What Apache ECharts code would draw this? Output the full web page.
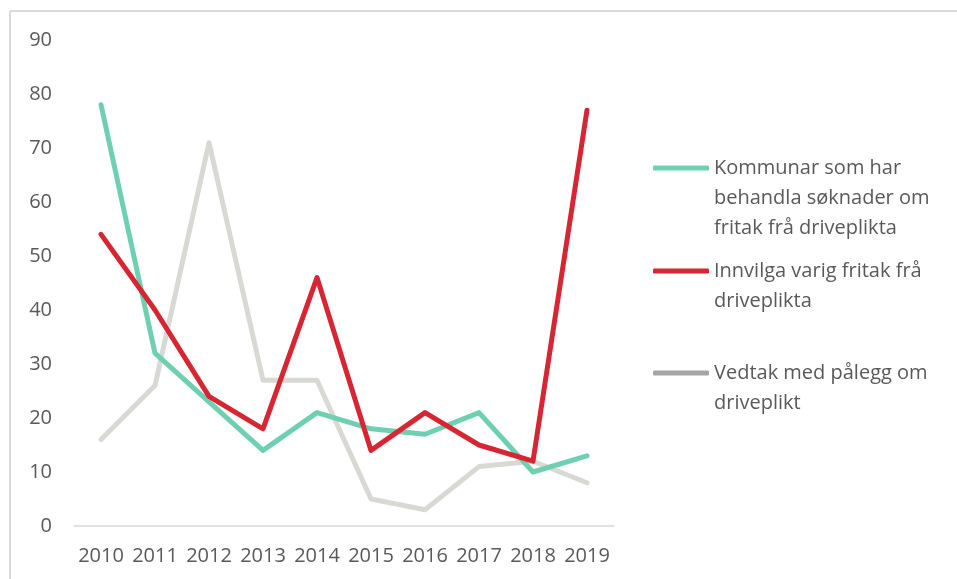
<!DOCTYPE html>
<html>
<head>
<meta charset="utf-8">
<script src="https://cdn.jsdelivr.net/npm/echarts@6/dist/echarts.min.js"></script>
<style>
html,body{margin:0;padding:0;background:#fff;}
#chart{width:957px;height:579px;}
</style>
</head>
<body>
<div id="chart"></div>
<script>
const years = ['2010','2011','2012','2013','2014','2015','2016','2017','2018','2019'];
const seriesNames = [
  'Kommunar som har\nbehandla søknader om\nfritak frå driveplikta',
  'Innvilga varig fritak frå\ndriveplikta',
  'Vedtak med pålegg om\ndriveplikt'
];
const kommunar = [78, 32, 23, 14, 21, 18, 17, 21, 10, 13];
const innvilga = [54, 40, 24, 18, 46, 14, 21, 15, 12, 77];
const vedtak = [16, 26, 71, 27, 27, 5, 3, 11, 12, 8];
const yTicks = { min: 0, max: 90, interval: 10 };

const lineColors = ['#6fcfb1', '#d62633', '#d9d9d4'];
const legendColors = ['#6fcfb1', '#d62633', '#a6a6a6'];
const values = [kommunar, innvilga, vedtak];
const LH = 30;
const legendIconY = [168, 271, 373];
const FONT = 'Open Sans';

const chart = echarts.init(document.getElementById('chart'));
const legends = seriesNames.map((name, i) => {
  const n = name.split('\n').length;
  const total = 2 * n - 1;
  return {
    left: 653,
    top: legendIconY[i] - total * LH / 2,
    orient: 'vertical',
    padding: 0,
    itemWidth: 56,
    itemHeight: 5,
    selectedMode: false,
    icon: 'roundRect',
    data: [{ name: name, itemStyle: { color: legendColors[i] }, lineStyle: { color: legendColors[i] } }],
    formatter: function (nm) { return '\n'.repeat(n - 1) + nm; },
    textStyle: {
      color: '#595959',
      fontFamily: FONT,
      fontSize: 20,
      lineHeight: LH
    }
  };
});

chart.setOption({
  animation: false,
  backgroundColor: '#fff',
  graphic: [
    { type: 'line', shape: { x1: 10, y1: 11, x2: 957, y2: 11 }, style: { stroke: '#d9d9d9', lineWidth: 2 } },
    { type: 'line', shape: { x1: 10, y1: 11, x2: 10, y2: 579 }, style: { stroke: '#d9d9d9', lineWidth: 2 } }
  ],
  legend: legends,
  grid: { left: 74, right: 343, top: 40, bottom: 53 },
  xAxis: {
    type: 'category',
    data: years,
    boundaryGap: true,
    axisLine: { lineStyle: { color: '#d9d9d9', width: 1.5 } },
    axisTick: { show: false },
    axisLabel: { color: '#595959', fontFamily: FONT, fontSize: 20, margin: 20, interval: 0 }
  },
  yAxis: {
    type: 'value',
    min: yTicks.min, max: yTicks.max, interval: yTicks.interval,
    axisLine: { show: false },
    axisTick: { show: false },
    splitLine: { show: false },
    axisLabel: { color: '#595959', fontFamily: FONT, fontSize: 20, margin: 22 }
  },
  series: seriesNames.map((name, i) => ({
    name: name,
    type: 'line',
    data: values[i],
    symbol: 'none',
    lineStyle: { color: lineColors[i], width: 5, cap: 'round', join: 'round' },
    itemStyle: { color: lineColors[i] },
    z: i === 2 ? 1 : (i === 0 ? 2 : 3)
  }))
});
</script>
</body>
</html>
